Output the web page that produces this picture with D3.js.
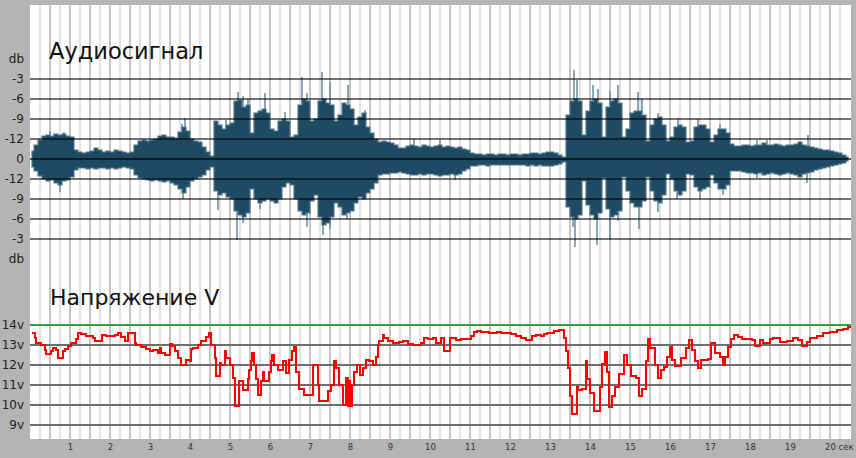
<!DOCTYPE html>
<html><head><meta charset="utf-8">
<script src="https://cdn.jsdelivr.net/npm/d3@7"></script>
<style>html,body{margin:0;padding:0;background:#b4b4b4;overflow:hidden}</style>
</head><body><svg id="c" width="856" height="458"></svg>
<script>
// ---------- DATA ----------
const secondTicks = d3.range(1, 21);
const dbTickValues = [-5,-4,-3,-2,-1,0,1,2,3,4,5];
const dbTickLabels = ["db","-3","-6","-9","-12","0","-12","-9","-6","-3","db"];
const voltTicks = [14,13,12,11,10,9];
const voltTickLabels = ["14v","13v","12v","11v","10v","9v"];

// waveform envelope (grid units, 1 unit = one dB line), sampled every 0.1 s from 0.05 s
const waveStart = 0.05, waveStep = 0.1;
const waveUpper = [
 0.4,0.7,0.95,1.15,1.2,1.15,1.25,1.2,1.25,1.15,
 1.1,0.45,0.35,0.3,0.35,0.4,0.55,0.45,0.35,0.4,
 0.35,0.45,0.4,0.35,0.3,0.35,0.7,0.9,0.95,0.9,
 0.95,1.0,1.15,1.2,1.1,1.1,1.05,1.35,1.6,1.4,
 1.0,0.9,0.85,0.6,0.35,0.15,1.9,1.7,1.5,1.7,
 1.8,2.9,2.95,2.6,2.7,1.3,2.3,2.4,2.5,2.3,
 1.5,1.4,1.9,2.0,1.9,1.1,1.2,2.7,3.0,2.9,
 1.9,2.0,2.9,3.0,2.8,2.7,1.9,2.2,2.8,2.7,
 2.5,1.7,2.1,2.3,1.6,1.3,1.0,0.85,0.9,0.85,
 0.8,0.7,0.55,0.55,0.65,0.7,0.65,0.6,0.7,0.65,
 0.6,0.65,0.7,0.6,0.65,0.6,0.55,0.6,0.5,0.45,
 0.3,0.25,0.25,0.2,0.25,0.25,0.2,0.25,0.25,0.2,
 0.25,0.25,0.2,0.25,0.25,0.3,0.3,0.25,0.3,0.35,
 0.35,0.3,0.2,0.1,2.2,2.9,3.0,2.9,1.2,2.4,
 2.9,3.0,2.8,1.1,2.6,2.9,3.0,2.8,1.1,1.5,
 2.3,2.4,2.4,2.2,0.9,1.7,2.0,2.1,1.7,0.9,
 1.1,1.6,1.7,1.6,0.85,0.9,1.6,1.7,1.7,1.5,
 0.85,1.2,1.5,1.5,1.3,0.75,0.65,0.65,0.7,0.7,
 0.65,0.7,0.7,0.8,0.7,0.7,0.75,0.7,0.65,0.7,
 0.7,0.75,0.85,0.7,0.65,0.6,0.55,0.5,0.45,0.45,
 0.4,0.35,0.3,0.2,0.1
];
const waveLower = [
 0.4,0.6,0.85,1.0,1.1,1.05,1.2,1.3,1.1,1.05,
 0.9,0.55,0.45,0.45,0.5,0.45,0.5,0.45,0.45,0.5,
 0.45,0.5,0.45,0.4,0.45,0.5,0.8,0.95,1.0,1.05,
 1.1,1.05,1.1,1.15,1.1,1.2,1.3,1.5,1.7,1.4,
 1.1,1.0,0.9,0.8,0.55,0.4,1.6,1.8,1.7,1.9,
 2.0,2.6,2.8,2.9,2.7,1.5,2.0,2.2,2.1,2.0,
 2.1,2.2,2.0,1.4,1.2,1.3,2.0,2.6,2.8,2.7,
 2.1,1.8,2.9,3.3,3.2,2.9,2.2,2.4,2.8,2.7,
 2.6,2.2,1.9,2.0,1.7,1.5,1.2,0.8,0.75,0.75,
 0.7,0.7,0.65,0.7,0.75,0.8,0.8,0.75,0.8,0.75,
 0.75,0.8,0.85,0.8,0.8,0.75,0.8,0.75,0.6,0.5,
 0.35,0.35,0.3,0.3,0.35,0.3,0.3,0.3,0.3,0.3,
 0.3,0.3,0.3,0.3,0.35,0.3,0.35,0.3,0.35,0.35,
 0.35,0.3,0.25,0.15,2.4,2.9,3.0,2.8,1.1,2.3,
 2.8,3.0,2.7,0.95,2.5,2.9,2.8,2.6,0.9,1.6,
 2.2,2.4,2.4,2.1,0.9,1.6,2.1,2.2,1.8,0.75,
 1.0,1.6,1.8,1.6,0.75,0.8,1.4,1.6,1.5,1.4,
 0.8,1.2,1.5,1.5,1.3,0.6,0.6,0.6,0.65,0.7,
 0.7,0.75,0.7,0.8,0.75,0.7,0.75,0.8,0.75,0.7,
 0.75,0.8,0.9,0.75,0.7,0.65,0.55,0.5,0.45,0.4,
 0.35,0.3,0.25,0.2,0.1
];
// light peak spikes
const spikeUpTimes  = [0.5,0.85,3.8,3.875,4.9,5.2,5.325,5.45,5.875,6.375,6.8,6.925,7.3,7.5,7.95,8.375,9.6,10.25,13.6,13.675,14.075,14.2,14.5,14.7,15.2,15.3,15.7,16.2,16.7,17.25,18.175,18.425,19.45];
const spikeUpValues = [1.4,1.35,1.75,2.05,1.95,3.35,3.15,3.0,3.3,2.35,4.1,3.3,4.35,3.85,3.7,2.45,1.0,0.95,4.45,3.95,3.7,3.5,3.4,3.7,3.35,3.0,2.3,2.05,2.0,1.75,0.95,0.95,1.2];
const spikeDnTimes  = [0.75,3.825,4.7,5.175,5.325,5.75,6.925,7.325,7.5,7.925,10.625,13.575,13.625,14.175,14.5,14.7,15.225,15.7,16.175,16.75,17.325,18.175,19.425];
const spikeDnValues = [1.65,2.0,2.55,4.05,3.2,2.5,3.4,3.8,3.5,3.0,1.05,3.4,4.4,4.3,4.05,3.1,3.5,2.65,2.0,2.0,1.8,0.95,1.2];

// voltage (V) change points, seconds
const voltTimes = [0.05,0.125,0.15,0.275,0.375,0.4,0.525,0.575,0.65,0.7,0.825,0.875,0.95,1.025,1.15,1.2,1.275,1.4,1.575,1.625,1.8,1.9,2.125,2.2,2.275,2.375,2.45,2.625,2.65,2.775,2.9,3.0,3.075,3.2,3.25,3.275,3.375,3.5,3.55,3.625,3.7,3.775,3.9,4.0,4.025,4.075,4.2,4.275,4.4,4.475,4.525,4.625,4.65,4.75,4.775,4.875,4.9,5.0,5.075,5.125,5.225,5.325,5.45,5.475,5.525,5.55,5.6,5.65,5.7,5.775,5.825,5.85,5.975,6.025,6.05,6.1,6.2,6.325,6.4,6.475,6.55,6.6,6.65,6.725,6.85,7.075,7.2,7.225,7.45,7.525,7.6,7.65,7.725,7.825,7.9,7.95,7.975,8.0,8.05,8.1,8.175,8.25,8.325,8.4,8.475,8.575,8.65,8.7,8.725,8.825,8.85,8.95,9.075,9.225,9.325,9.45,9.575,9.775,9.85,9.95,10.075,10.15,10.275,10.35,10.5,10.65,10.775,11.025,11.1,11.175,11.275,11.475,11.675,11.775,12.025,12.15,12.275,12.4,12.55,12.65,12.775,12.85,12.925,13.1,13.225,13.35,13.4,13.45,13.5,13.55,13.675,13.7,13.8,13.9,13.925,14.0,14.1,14.25,14.3,14.375,14.425,14.475,14.55,14.625,14.725,14.85,14.925,15.025,15.15,15.225,15.3,15.4,15.45,15.5,15.625,15.7,15.775,15.85,15.925,16.0,16.05,16.125,16.275,16.4,16.475,16.55,16.625,16.7,16.775,16.95,17.025,17.125,17.25,17.325,17.375,17.45,17.525,17.6,17.7,17.8,18.05,18.125,18.25,18.325,18.5,18.575,18.75,18.925,19.075,19.2,19.3,19.425,19.5,19.675,19.825,20.0,20.175,20.325,20.45,20.525];
const voltValues = [13.6,13.35,13.1,13.0,12.75,12.55,12.7,12.85,12.75,12.35,12.7,12.8,12.95,13.1,13.3,13.6,13.55,13.45,13.35,13.2,13.5,13.45,13.5,13.6,13.4,13.2,13.6,13.1,13.0,12.9,12.8,12.7,12.75,12.6,12.85,12.6,12.5,13.05,12.95,12.7,12.35,12.0,12.25,12.2,12.8,12.85,13.0,13.2,13.4,13.6,13.0,12.35,11.45,12.1,12.0,12.7,12.35,12.0,11.35,9.95,11.2,10.75,11.3,11.75,12.2,12.6,12.0,11.3,10.5,11.2,11.65,11.2,11.65,12.2,12.5,12.0,11.75,12.2,11.6,12.25,12.7,12.9,11.65,10.8,10.5,12.0,11.0,10.2,10.7,11.0,12.2,11.85,11.0,10.0,11.35,9.95,11.2,9.95,11.0,11.65,12.0,11.5,11.85,12.25,12.2,12.0,12.4,13.0,13.2,13.5,13.35,13.2,13.1,13.15,13.2,13.05,13.0,13.1,13.35,13.3,13.35,13.1,13.35,12.7,13.35,13.25,13.3,13.45,13.65,13.7,13.65,13.6,13.65,13.6,13.55,13.45,13.35,13.25,13.45,13.5,13.45,13.55,13.6,13.7,13.75,13.35,12.7,11.85,10.45,9.55,10.9,10.75,10.8,12.2,11.3,10.6,9.7,10.9,12.05,12.65,11.65,9.9,10.45,10.9,11.55,12.5,12.0,11.45,11.35,10.45,10.8,12.2,13.3,12.85,12.0,11.35,11.75,11.9,12.4,12.9,12.25,11.95,12.35,12.85,13.25,12.75,12.2,11.85,12.25,12.3,13.1,12.6,12.4,12.0,12.4,12.9,13.3,13.5,13.4,13.3,13.25,12.95,13.25,13.1,13.3,13.35,13.15,13.2,13.35,13.25,12.95,13.15,13.35,13.45,13.6,13.65,13.75,13.8,13.9,13.9];
const voltLimit = 14;

// ---------- CHART ----------
const W = 856, H = 458;
const svg = d3.select("#c");
const plot = {left: 30, right: 851, top: 5, bottom: 439};

const x = d3.scaleLinear().domain([0, 20.525]).range([plot.left, plot.right]);
const yW = d3.scaleLinear().domain([-4, 4]).range([239, 79]);
const yV = d3.scaleLinear().domain([9, 14]).range([425, 325]);

svg.append("rect").attr("width", W).attr("height", H).attr("fill", "#b4b4b4");
svg.append("rect").attr("x", plot.left).attr("y", plot.top)
  .attr("width", plot.right - plot.left).attr("height", plot.bottom - plot.top).attr("fill", "#ffffff");

// vertical grid every 0.25 s
const vg = svg.append("g");
d3.range(0.25, 20.5, 0.25).forEach(t => {
  const major = Math.abs(t * 2 - Math.round(t * 2)) < 1e-6;
  vg.append("line").attr("x1", x(t)).attr("x2", x(t)).attr("y1", plot.top).attr("y2", plot.bottom)
    .attr("stroke", major ? "#c4c4c4" : "#e2e2e2").attr("stroke-width", 2);
});

// waveform
const waveTimes = waveUpper.map((d, i) => waveStart + i * waveStep);
const waveData = waveTimes.map((t, i) => ({t, u: waveUpper[i], l: waveLower[i]}));
const wg = svg.append("g");
spikeUpTimes.forEach((t, i) => {
  wg.append("line").attr("x1", x(t)).attr("x2", x(t)).attr("y1", yW(0)).attr("y2", yW(spikeUpValues[i]))
    .attr("stroke", "#6f91a6").attr("stroke-width", 1.6);
});
spikeDnTimes.forEach((t, i) => {
  wg.append("line").attr("x1", x(t)).attr("x2", x(t)).attr("y1", yW(0)).attr("y2", yW(-spikeDnValues[i]))
    .attr("stroke", "#6f91a6").attr("stroke-width", 1.6);
});
const area = d3.area().x(d => x(d.t)).y0(d => yW(-d.l)).y1(d => yW(d.u)).curve(d3.curveStep);
wg.append("path").datum(waveData).attr("d", area)
  .attr("fill", "#1f4a63").attr("stroke", "#557a90").attr("stroke-width", 1.2);

// horizontal dB lines
dbTickValues.filter(v => Math.abs(v) <= 4).forEach(v => {
  svg.append("line").attr("x1", plot.left).attr("x2", plot.right).attr("y1", yW(v)).attr("y2", yW(v))
    .attr("stroke", "#000").attr("stroke-opacity", v === 0 ? 0.6 : 0.55).attr("stroke-width", 2);
});

// voltage grid
voltTicks.forEach(v => {
  svg.append("line").attr("x1", plot.left).attr("x2", plot.right).attr("y1", yV(v)).attr("y2", yV(v))
    .attr("stroke", v === voltLimit ? "#35a035" : "#6e6e6e").attr("stroke-width", 2);
});

// voltage line
const vData = voltTimes.map((t, i) => ({t, v: voltValues[i]}));
svg.append("path").datum(vData)
  .attr("d", d3.line().x(d => x(d.t)).y(d => yV(d.v)).curve(d3.curveStepAfter))
  .attr("fill", "none").attr("stroke", "#ff0000").attr("stroke-width", 2);

// axes
const fontF = "DejaVu Sans, Verdana, sans-serif";
const axW = svg.append("g").attr("transform", `translate(${plot.left},0)`)
  .call(d3.axisLeft(yW).tickValues(dbTickValues).tickSize(0).tickPadding(6)
    .tickFormat((d, i) => dbTickLabels[i]));
const axV = svg.append("g").attr("transform", `translate(${plot.left},0)`)
  .call(d3.axisLeft(yV).tickValues(voltTicks).tickSize(0).tickPadding(6)
    .tickFormat((d, i) => voltTickLabels[i]));
[axW, axV].forEach(a => {
  a.select(".domain").remove();
  a.selectAll("text").attr("font-family", fontF).attr("font-size", 12).attr("fill", "#222");
});
const axX = svg.append("g").attr("transform", `translate(0,${plot.bottom})`)
  .call(d3.axisBottom(x).tickValues(secondTicks).tickSize(0).tickPadding(5)
    .tickFormat(d => d === 20 ? "20 сек" : String(d)));
axX.select(".domain").remove();
axX.selectAll("text").attr("font-family", fontF).attr("font-size", 8.5).attr("fill", "#333");
axX.selectAll(".tick").filter(d => d === 20).select("text").attr("text-anchor", "start").attr("x", -5.5);

// titles
svg.append("text").attr("x", 49).attr("y", 59).text("Аудиосигнал")
  .attr("font-family", fontF).attr("font-size", 22.5).attr("fill", "#111");
svg.append("text").attr("x", 50).attr("y", 305).text("Напряжение V")
  .attr("font-family", fontF).attr("font-size", 22).attr("fill", "#111");
</script></body></html>
